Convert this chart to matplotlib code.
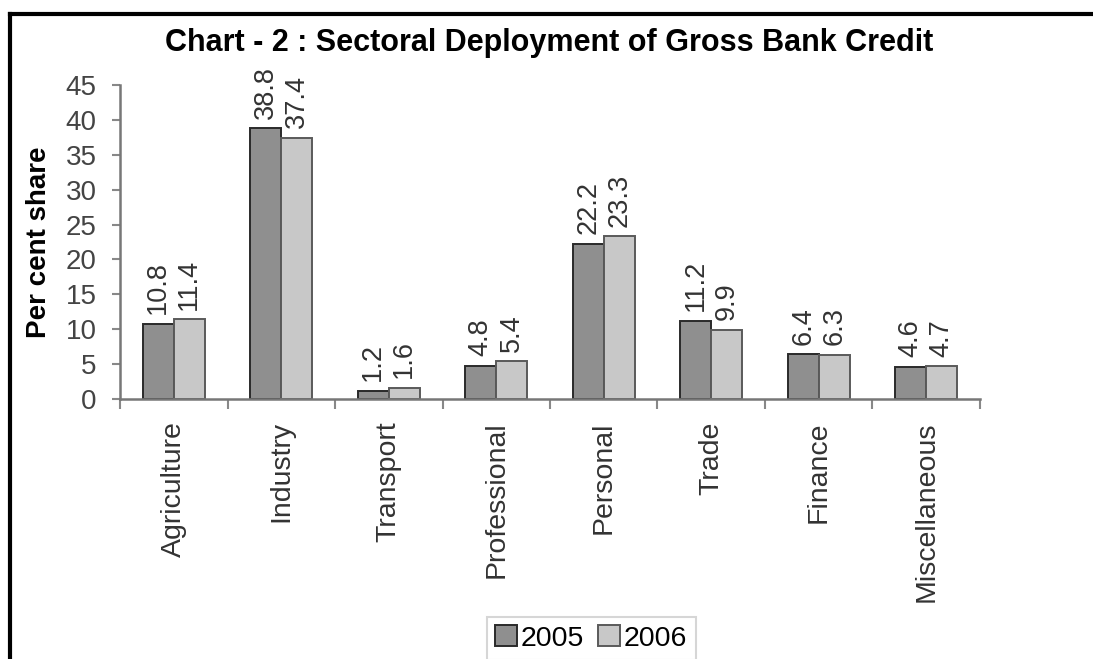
import numpy as np
import matplotlib.pyplot as plt
from matplotlib.lines import Line2D

sectors = ['Agriculture', 'Industry', 'Transport', 'Professional', 'Personal',
           'Trade', 'Finance', 'Miscellaneous']
share_2005 = [10.8, 38.8, 1.2, 4.8, 22.2, 11.2, 6.4, 4.6]
share_2006 = [11.4, 37.4, 1.6, 5.4, 23.3, 9.9, 6.3, 4.7]
years = ['2005', '2006']

plt.rcParams['font.family'] = ['Liberation Sans', 'DejaVu Sans']

fig = plt.figure(figsize=(10.93, 6.59), dpi=100)
ax = fig.add_axes([0.1098, 0.3945, 0.7868, 0.4765])

x = np.arange(len(sectors))
w = 0.29
b1 = ax.bar(x - w/2, share_2005, w, color='#8f8f8f', edgecolor='#2a2a2a', linewidth=1.4, label=years[0])
b2 = ax.bar(x + w/2, share_2006, w, color='#c8c8c8', edgecolor='#5a5a5a', linewidth=1.4, label=years[1])

# Datenbeschriftung senkrecht ueber den Balken
for bars, vals in ((b1, share_2005), (b2, share_2006)):
    for r, v in zip(bars, vals):
        ax.annotate('%.1f' % v, (r.get_x() + r.get_width()/2, v), xytext=(0, 7),
                    textcoords='offset points', rotation=90, ha='center', va='bottom',
                    fontsize=19.5, color='#333333')

ax.set_xlim(-0.5, len(sectors) - 0.5)
ax.set_ylim(0, 45)
ax.set_yticks(np.arange(0, 46, 5))
ax.tick_params(axis='y', labelsize=20, labelcolor='#444444', color='#888888',
               length=6, width=1.5, direction='out', pad=11)
ax.set_xticks(x)
ax.set_xticklabels(sectors, rotation=90, fontsize=20.5, color='#333333')
ax.tick_params(axis='x', length=0, pad=16)
# Teilstriche zwischen den Kategorien
ax.set_xticks(np.arange(-0.5, len(sectors)), minor=True)
ax.tick_params(axis='x', which='minor', length=7, width=1.5, color='#888888', direction='out')

for s in ('top', 'right'):
    ax.spines[s].set_visible(False)
for s in ('left', 'bottom'):
    ax.spines[s].set_color('#777777')
    ax.spines[s].set_linewidth(1.8)

ax.set_ylabel('Per cent share', fontsize=20, fontweight='bold', labelpad=10)
fig.text(0.502, 0.935, 'Chart - 2 : Sectoral Deployment of Gross Bank Credit',
         ha='center', va='center', fontsize=22, fontweight='bold')

leg = fig.legend(handles=[b1, b2], labels=years, loc='upper center', bbox_to_anchor=(0.541, 0.064),
                 ncol=2, fontsize=20.5, frameon=True, fancybox=False, handlelength=0.75,
                 handleheight=0.75, handletextpad=0.15, columnspacing=0.5, borderpad=0.3,
                 borderaxespad=0)
leg.get_frame().set_edgecolor('#cccccc')
leg.get_frame().set_linewidth(1.5)

# Rahmen oben und links
fig.add_artist(Line2D([0.009, 1.0], [0.979, 0.979], color='black', lw=3, transform=fig.transFigure))
fig.add_artist(Line2D([0.0095, 0.0095], [0.0, 0.979], color='black', lw=3, transform=fig.transFigure))

plt.savefig('out.png', dpi=100)
